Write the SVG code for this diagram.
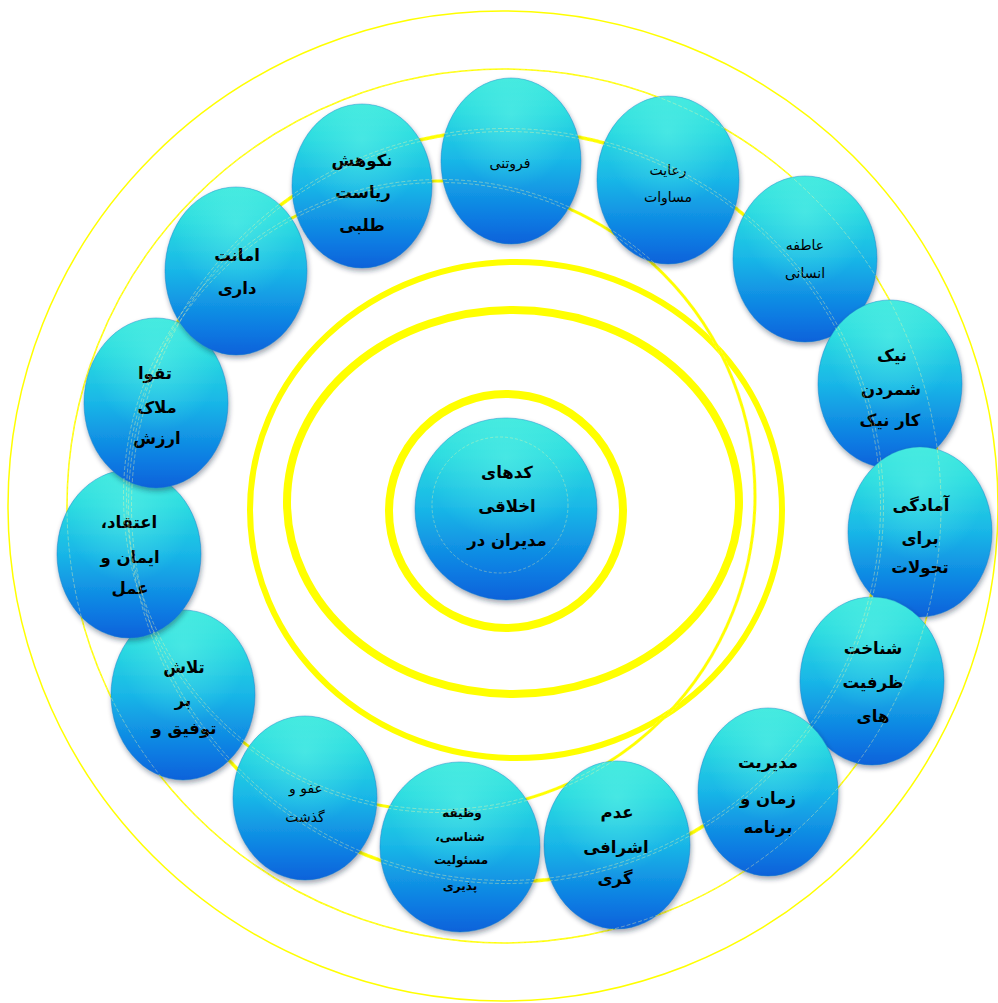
<svg xmlns="http://www.w3.org/2000/svg" width="998" height="1003" viewBox="0 0 998 1003">
<defs>
<linearGradient id="g" x1="0" y1="0" x2="0" y2="1">
<stop offset="0" stop-color="#3BE8DD"/>
<stop offset="0.2" stop-color="#2ADBE0"/>
<stop offset="0.5" stop-color="#19B6E7"/>
<stop offset="0.85" stop-color="#0C7AE2"/>
<stop offset="1" stop-color="#0A62DA"/>
</linearGradient>
<radialGradient id="hl" cx="0.5" cy="0.22" r="0.45">
<stop offset="0" stop-color="#5FF2E6" stop-opacity="0.55"/>
<stop offset="1" stop-color="#5FF2E6" stop-opacity="0"/>
</radialGradient>
<filter id="sh" x="-20%" y="-20%" width="140%" height="145%">
<feDropShadow dx="1" dy="3" stdDeviation="2.5" flood-color="#1a2a40" flood-opacity="0.4"/>
</filter>
</defs>
<style>
.ring{fill:none;stroke:#FFFF00}
.ov{fill:none;stroke:#FFF6A0;stroke-opacity:0.55;stroke-width:0.7;stroke-dasharray:4 2}
.n{fill:url(#g);stroke:#1C7FC8;stroke-width:0.8;stroke-opacity:0.6;filter:url(#sh)}
.h{fill:url(#hl)}
text{font-family:"DejaVu Sans",sans-serif;fill:#000;text-anchor:middle;direction:rtl}
.b{font-weight:bold;font-size:16.5px}
.r{font-weight:normal;font-size:14px}
.s{font-weight:bold;font-size:12px}
</style>
<g id="rings">
<circle class="ring" cx="503" cy="506" r="495" stroke-width="1.5"/>
<circle class="ring" cx="504" cy="506" r="437" stroke-width="1.5"/>
<circle class="ring" cx="506" cy="506" r="376" stroke-width="3.5"/>
<circle class="ring" cx="440" cy="496" r="315" stroke-width="3"/>
<ellipse class="ring" cx="516" cy="510" rx="266" ry="248" stroke-width="6"/>
<ellipse class="ring" cx="513" cy="502" rx="226" ry="192" stroke-width="8"/>
<circle class="ring" cx="506" cy="511" r="117" stroke-width="8"/>
</g>
<g id="center">
<circle class="n" cx="506" cy="509" r="91"/>
<circle class="h" cx="506" cy="509" r="91"/>
<circle cx="500" cy="505" r="68" fill="none" stroke="#FFF6A0" stroke-opacity="0.5" stroke-width="0.7" stroke-dasharray="3 2"/>
<text class="b" x="507" y="478">کدهای</text>
<text class="b" x="507" y="512">اخلاقی</text>
<text class="b" x="507" y="546">مدیران در</text>
</g>
<g id="n1">
<ellipse class="n" cx="511" cy="161" rx="70" ry="83"/>
<ellipse class="h" cx="511" cy="161" rx="70" ry="83"/>
<text class="r" x="510" y="168">فروتنی</text>
</g>
<g id="n2">
<ellipse class="n" cx="668" cy="180" rx="71" ry="84"/>
<ellipse class="h" cx="668" cy="180" rx="71" ry="84"/>
<text class="r" x="668" y="175">رعایت</text>
<text class="r" x="668" y="202">مساوات</text>
</g>
<g id="n3">
<ellipse class="n" cx="805" cy="259" rx="72" ry="83"/>
<ellipse class="h" cx="805" cy="259" rx="72" ry="83"/>
<text class="r" x="805" y="250">عاطفه</text>
<text class="r" x="805" y="278">انسانی</text>
</g>
<g id="n4">
<ellipse class="n" cx="890" cy="384" rx="72" ry="84"/>
<ellipse class="h" cx="890" cy="384" rx="72" ry="84"/>
<text class="b" x="892" y="361">نیک</text>
<text class="b" x="891" y="395">شمردن</text>
<text class="b" x="890" y="426">کار نیک</text>
</g>
<g id="n5">
<ellipse class="n" cx="920" cy="532" rx="72" ry="85"/>
<ellipse class="h" cx="920" cy="532" rx="72" ry="85"/>
<text class="b" x="921" y="511">آمادگی</text>
<text class="b" x="920" y="544">برای</text>
<text class="b" x="920" y="573">تحولات</text>
</g>
<g id="n6">
<ellipse class="n" cx="872" cy="681" rx="72" ry="84"/>
<ellipse class="h" cx="872" cy="681" rx="72" ry="84"/>
<text class="b" x="873" y="654">شناخت</text>
<text class="b" x="873" y="688">ظرفیت</text>
<text class="b" x="873" y="722">های</text>
</g>
<g id="n7">
<ellipse class="n" cx="768" cy="792" rx="70" ry="84"/>
<ellipse class="h" cx="768" cy="792" rx="70" ry="84"/>
<text class="b" x="768" y="768">مدیریت</text>
<text class="b" x="768" y="804">زمان و</text>
<text class="b" x="768" y="833">برنامه</text>
</g>
<g id="n8">
<ellipse class="n" cx="617" cy="845" rx="73" ry="84"/>
<ellipse class="h" cx="617" cy="845" rx="73" ry="84"/>
<text class="b" x="617" y="818">عدم</text>
<text class="b" x="616" y="853">اشرافی</text>
<text class="b" x="615" y="884">گری</text>
</g>
<g id="n9">
<ellipse class="n" cx="460" cy="847" rx="80" ry="85"/>
<ellipse class="h" cx="460" cy="847" rx="80" ry="85"/>
<text class="s" x="462" y="817">وظیفه</text>
<text class="s" x="460" y="841">شناسی،</text>
<text class="s" x="461" y="864">مسئولیت</text>
<text class="s" x="460" y="890">پذیری</text>
</g>
<g id="n10">
<ellipse class="n" cx="305" cy="798" rx="72" ry="82"/>
<ellipse class="h" cx="305" cy="798" rx="72" ry="82"/>
<text class="r" x="306" y="793">عفو و</text>
<text class="r" x="305" y="822">گذشت</text>
</g>
<g id="n11">
<ellipse class="n" cx="183" cy="695" rx="72" ry="85"/>
<ellipse class="h" cx="183" cy="695" rx="72" ry="85"/>
<text class="b" x="184" y="673">تلاش</text>
<text class="b" x="183" y="706">بر</text>
<text class="b" x="184" y="734">توفیق و</text>
</g>
<g id="n12">
<ellipse class="n" cx="129" cy="554" rx="72" ry="84"/>
<ellipse class="h" cx="129" cy="554" rx="72" ry="84"/>
<text class="b" x="129" y="528">اعتقاد،</text>
<text class="b" x="130" y="563">ایمان و</text>
<text class="b" x="130" y="594">عمل</text>
</g>
<g id="n13">
<ellipse class="n" cx="156" cy="403" rx="72" ry="85"/>
<ellipse class="h" cx="156" cy="403" rx="72" ry="85"/>
<text class="b" x="155" y="379">تقوا</text>
<text class="b" x="157" y="413">ملاک</text>
<text class="b" x="157" y="444">ارزش</text>
</g>
<g id="n14">
<ellipse class="n" cx="236" cy="271" rx="71" ry="84"/>
<ellipse class="h" cx="236" cy="271" rx="71" ry="84"/>
<text class="b" x="237" y="261">امانت</text>
<text class="b" x="237" y="294">داری</text>
</g>
<g id="n15">
<ellipse class="n" cx="362" cy="186" rx="70" ry="82"/>
<ellipse class="h" cx="362" cy="186" rx="70" ry="82"/>
<text class="b" x="362" y="166">نکوهش</text>
<text class="b" x="363" y="198">ریاست</text>
<text class="b" x="362" y="231">طلبی</text>
</g>
<g id="overlay">
<circle class="ov" cx="506" cy="506" r="374.5"/>
<circle class="ov" cx="506" cy="506" r="377.5"/>
<circle class="ov" cx="440" cy="496" r="313.5"/>
<circle class="ov" cx="440" cy="496" r="316.5"/>
<circle class="ov" cx="504" cy="506" r="437"/>
</g>
</svg>
